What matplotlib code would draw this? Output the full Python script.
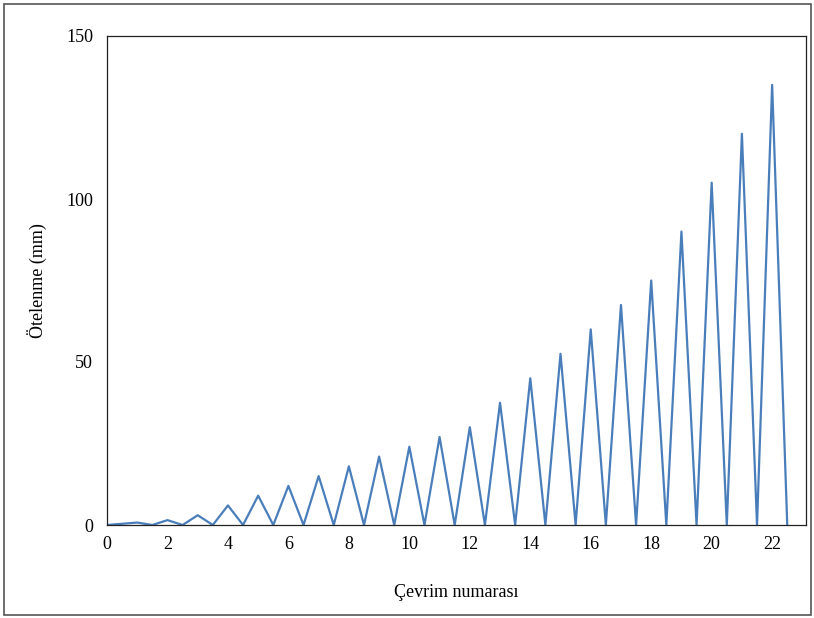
import matplotlib
matplotlib.use("Agg")
import matplotlib.pyplot as plt
from matplotlib.patches import Rectangle

cycles = list(range(1, 23))
peaks = [0.75, 1.5, 3, 6, 9, 12, 15, 18, 21, 24, 27, 30,
         37.5, 45, 52.5, 60, 67.5, 75, 90, 105, 120, 135]

xs = [0.0]
ys = [0.0]
for c, p in zip(cycles, peaks):
    xs += [c, c + 0.5]
    ys += [p, 0.0]

plt.rcParams['font.family'] = ['Liberation Serif', 'DejaVu Serif']

fig = plt.figure(figsize=(8.14, 6.18), dpi=100)
ax = fig.add_axes([107/814, 1-525/618, (806-107)/814, (525-36)/618])
ax.plot(xs, ys, color='#4a7ebb', lw=1.6)
ax.set_xlim(0, 23.12)
ax.set_ylim(0, 150)
ax.set_xticks(range(0, 23, 2))
ax.set_yticks([0, 50, 100, 150])
ax.tick_params(length=0, labelsize=13, pad=8)
ax.tick_params(axis='y', pad=10)
for s in ax.spines.values():
    s.set_linewidth(0.9)
    s.set_color('#222222')
ax.set_xlabel('Çevrim numarası', fontsize=13, labelpad=22)
ax.set_ylabel('Ötelenme (mm)', fontsize=13, labelpad=14)

fig.patches.append(Rectangle((4/814, 3/618), 807/814, 611/618, transform=fig.transFigure,
                             fill=False, edgecolor='#555555', lw=1.2))
fig.savefig('out.png', dpi=100)
